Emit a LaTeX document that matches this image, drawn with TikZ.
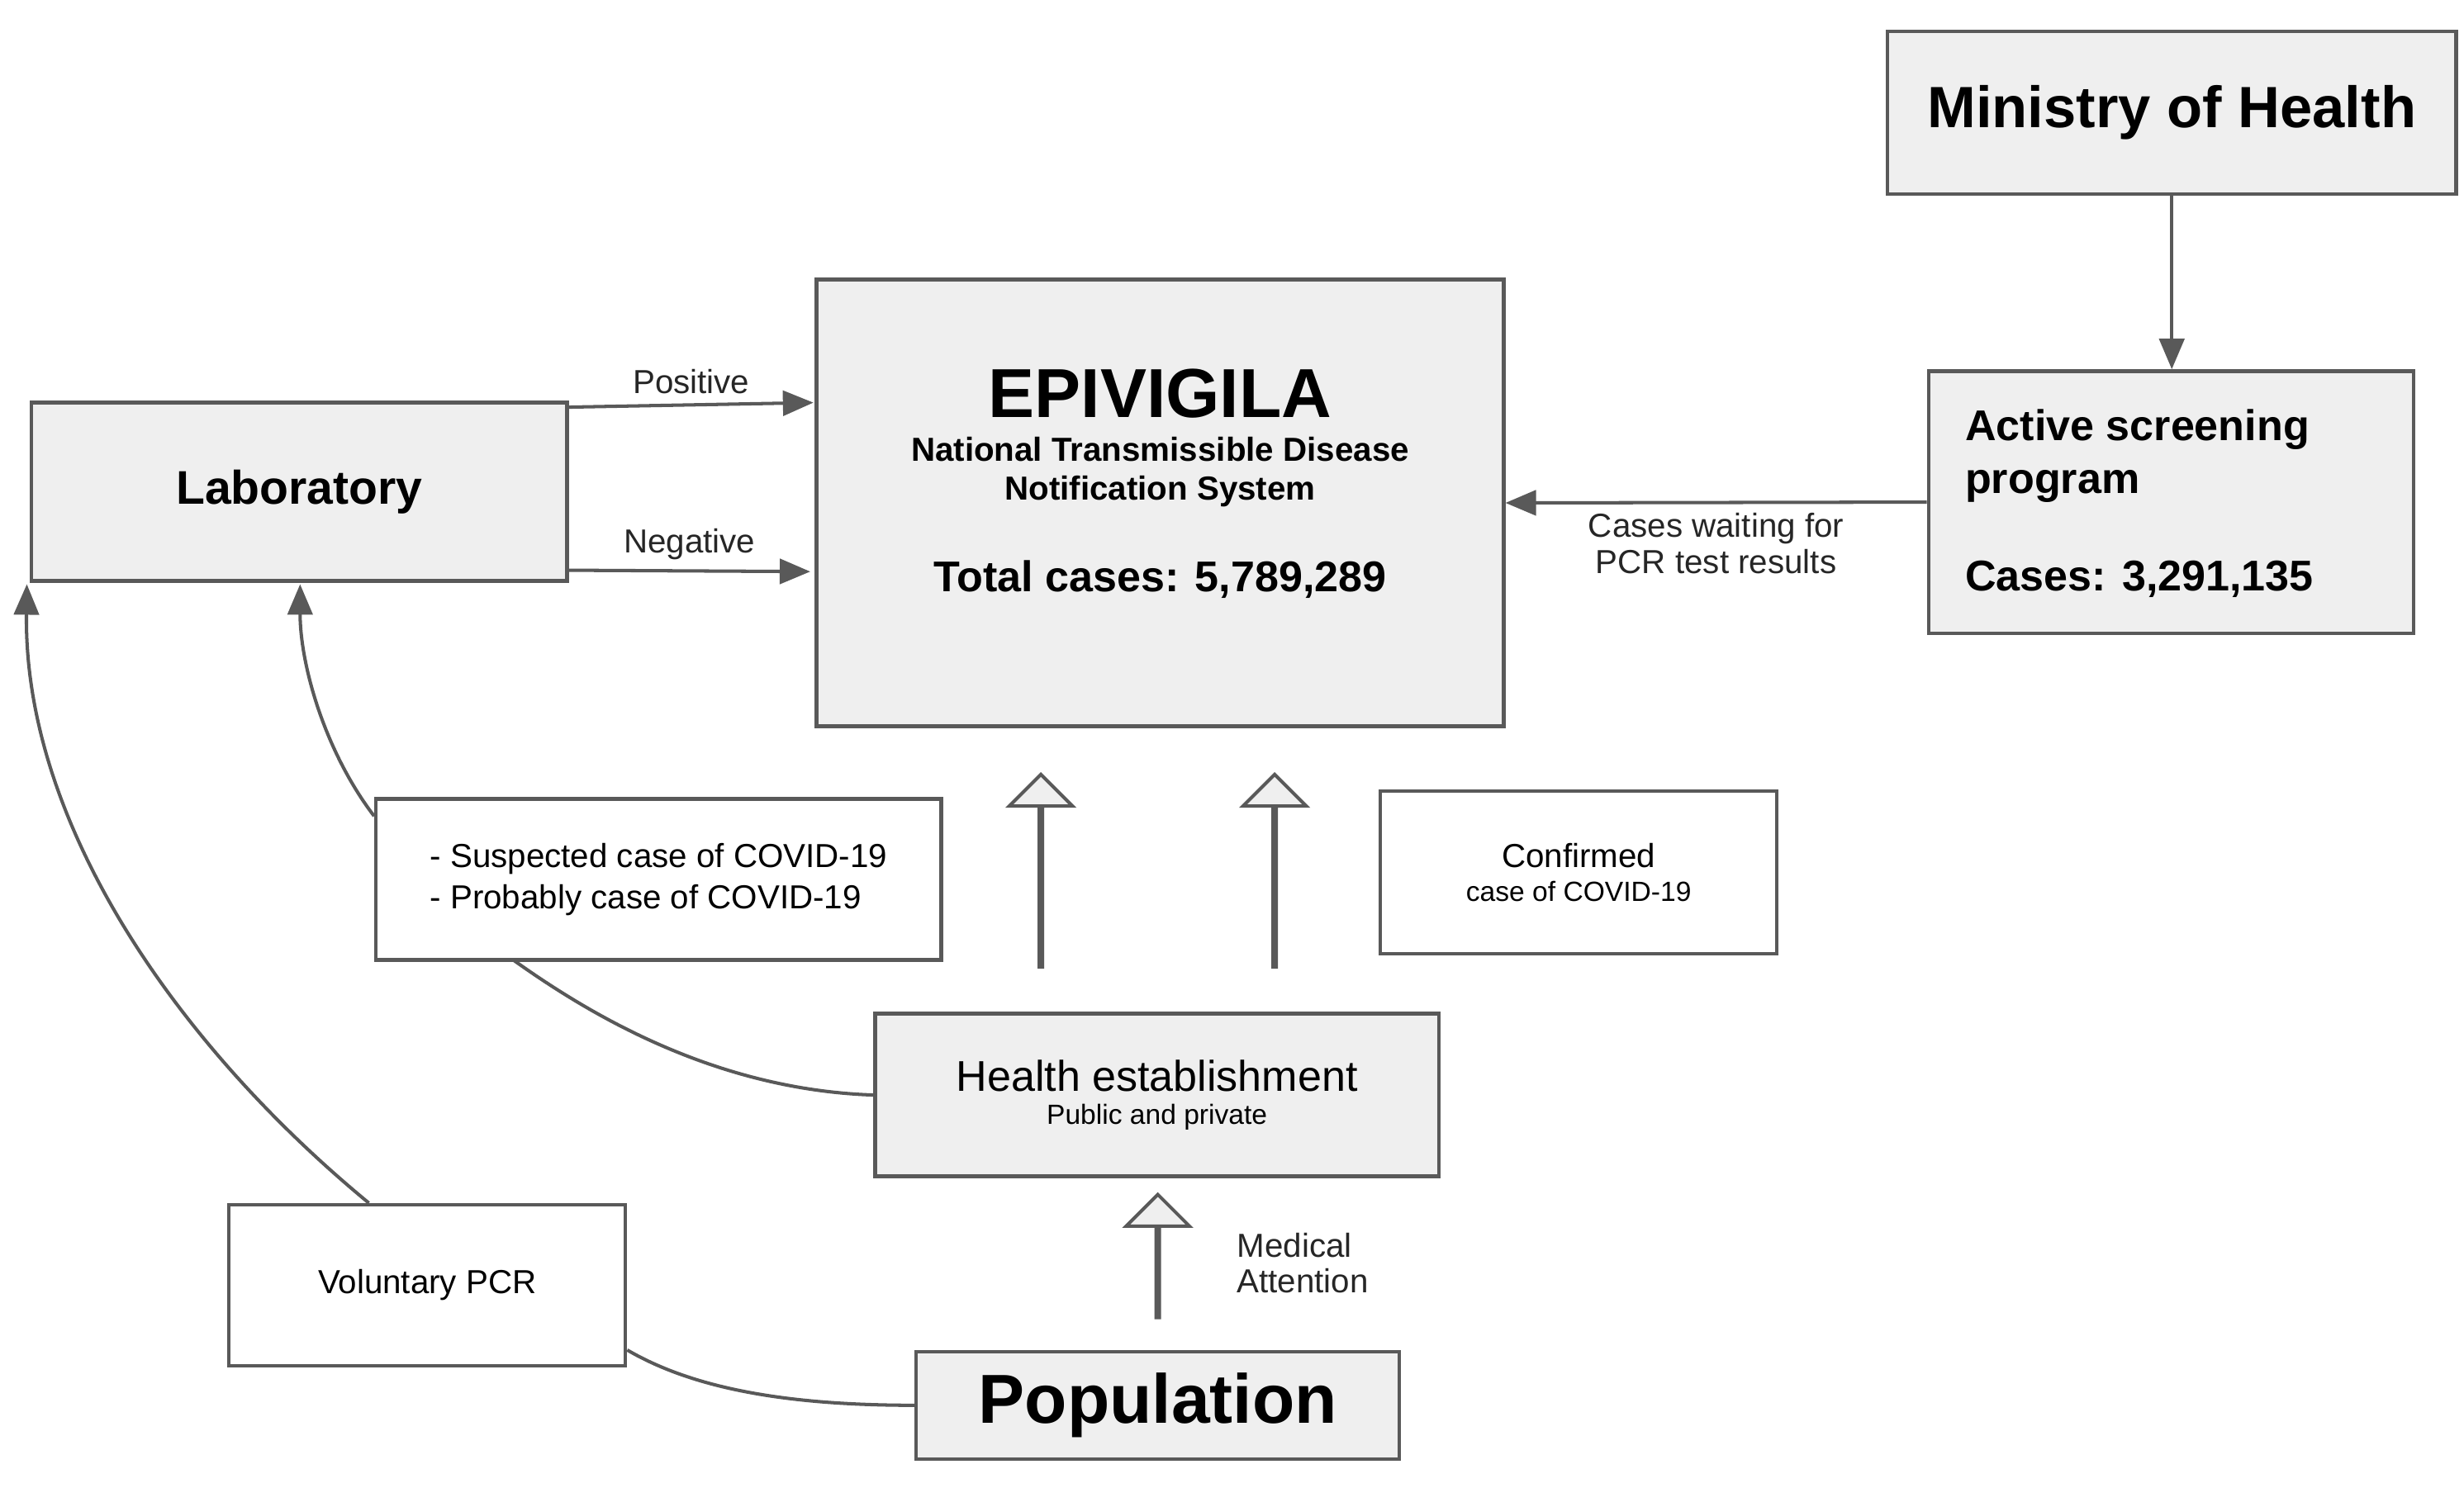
\documentclass[tikz,border=0pt]{standalone}
\usepackage{fontspec}
\setmainfont{Liberation Sans}
\usetikzlibrary{arrows.meta,shapes.arrows}
\definecolor{boxfill}{HTML}{EFEFEF}
\definecolor{linecol}{HTML}{595959}
\tikzset{
  box/.style={draw=linecol, line width=1.3pt, fill=boxfill, inner sep=0pt, align=center},
  wbox/.style={box, fill=white},
  conn/.style={draw=linecol, line width=1.2pt, -{Triangle[length=11pt,width=9pt]}},
  link/.style={draw=linecol, line width=1.2pt},
  uparrow/.style={draw=linecol, line width=1.2pt, fill=boxfill, single arrow, shape border rotate=90,
    single arrow head extend=0.38cm, single arrow tip angle=90, inner sep=0pt, minimum width=0.8cm},
  lbl/.style={font=\fontsize{12}{13}\selectfont, text=black!85}
}
\begin{document}
\begin{tikzpicture}[x=0.02cm, y=-0.02cm]
  \useasboundingbox (0,0) rectangle (1560,942);

  % boxes
  \node [box, minimum width=360*0.02cm, minimum height=103*0.02cm] (ministry) at (1375,71.5)
    {\fontsize{21}{24}\selectfont\bfseries Ministry of Health};
  \node [box, minimum width=435*0.02cm, minimum height=283*0.02cm] (epivigila) at (734.5,318.5) {};
  \node [font=\fontsize{25}{28}\selectfont\bfseries] at (734.5,249) {EPIVIGILA};
  \node [font=\fontsize{12}{14}\selectfont\bfseries, align=center] at (734.5,299)
    {National Transmissible Disease\\Notification System};
  \node [font=\fontsize{15.5}{18}\selectfont\bfseries] at (734.5,367) {Total cases: 5,789,289};
  \node [box, minimum width=339*0.02cm, minimum height=113*0.02cm] (lab) at (189.5,311.5)
    {\fontsize{17}{20}\selectfont\bfseries Laboratory};
  \node [box, minimum width=307*0.02cm, minimum height=166*0.02cm] (screening) at (1374.5,318) {};
  \node [font=\fontsize{15.5}{19}\selectfont\bfseries, align=left, anchor=north west] at (1238,253)
    {Active screening\\program};
  \node [font=\fontsize{15.5}{18}\selectfont\bfseries, anchor=west] at (1238,367) {Cases: 3,291,135};
  \node [wbox, minimum width=358*0.02cm, minimum height=102*0.02cm, align=left] (suspected) at (417,557)
    {\fontsize{12}{25}\selectfont - Suspected case of COVID-19\\[0.3em]\fontsize{12}{14}\selectfont - Probably case of COVID-19};
  \node [wbox, minimum width=251*0.02cm, minimum height=103*0.02cm] (confirmed) at (999.5,552.5)
    {\fontsize{12}{14}\selectfont Confirmed\\case of COVID-19};
  \node [box, minimum width=357*0.02cm, minimum height=103*0.02cm] (health) at (732.5,693.5)
    {\fontsize{15.5}{19}\selectfont Health establishment\\Public and private};
  \node [wbox, minimum width=251*0.02cm, minimum height=102*0.02cm] (voluntary) at (270.5,814)
    {\fontsize{12}{14}\selectfont Voluntary PCR};
  \node [box, minimum width=306*0.02cm, minimum height=68*0.02cm] (population) at (733,890)
    {\fontsize{25}{28}\selectfont\bfseries Population};

  % block arrows
  \node [uparrow, minimum height=122*0.02cm] (up1) at (659,552) {};
  \node [uparrow, minimum height=122*0.02cm] (up2) at (807,552) {};
  \node [uparrow, minimum height=78*0.02cm] (up3) at (733,796) {};
  \node [lbl, align=left, anchor=west] at (777,800) {Medical\\Attention};

  % connectors
  \draw [conn] (lab.north east) ++(0,4) -- (515,255) node [lbl, midway, above] {Positive};
  \draw [conn] (lab.south east) ++(0,-8) -- (513,362) node [lbl, midway, above] {Negative};
  \draw [conn] (ministry.south) -- (screening.north -| ministry.south);
  \draw [conn] (screening.west) -- (epivigila.east)
    node [lbl, midway, below, align=center] {Cases waiting for\\PCR test results};
  \draw [conn] (suspected.north west) ++(0,12) .. controls (205,475) and (190,420) .. (190,370);
  \draw [conn] (voluntary.north) ++(-37,0) .. controls (110,660) and (15,520) .. (17,370);
  \draw [link] (health.west) .. controls (450,690) and (370,640) .. (325,608);
  \draw [link] (population.west) .. controls (500,890) and (440,880) .. (voluntary.east |- 0,855);
\end{tikzpicture}
\end{document}
